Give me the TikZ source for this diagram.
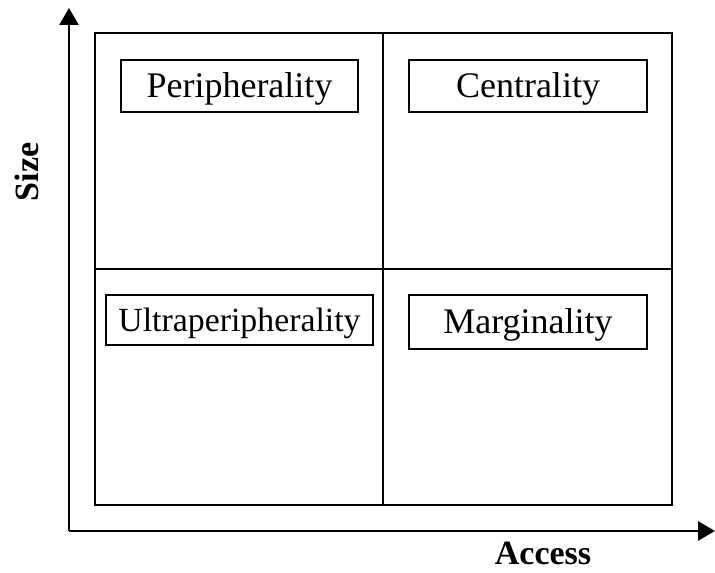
\documentclass[tikz,border=0pt]{standalone}
\usepackage{fontspec}
\setmainfont{Liberation Serif}
\usetikzlibrary{arrows.meta}
\begin{document}
\begin{tikzpicture}[x=1pt,y=1pt,
  thick line/.style={line width=2.8pt},
  label box/.style={draw, line width=2.8pt, inner sep=0pt, align=center,
    font=\fontsize{36}{40}\selectfont, text height=23.8pt, text depth=0pt},
  axis label/.style={font=\fontsize{34}{38}\selectfont\bfseries, inner sep=0pt},
  axis/.style={line width=2.8pt, -{Triangle[length=17pt,width=19pt]}}]
\useasboundingbox (0,0) rectangle (715,573);
% axes
\coordinate (O) at (69,42);
\coordinate (Ytop) at (69,565);
\coordinate (Xend) at (715,42);
\draw[axis] (O) -- (Ytop);
\draw[axis] (O) -- (Xend);
% outer grid
\coordinate (BL) at (95,68);
\coordinate (TR) at (672,540);
\draw[thick line] (BL) rectangle (TR);
\coordinate (MT) at (383,540);
\coordinate (MB) at (383,68);
\coordinate (ML) at (95,304);
\coordinate (MR) at (672,304);
\draw[thick line] (MT) -- (MB);
\draw[thick line] (ML) -- (MR);
% quadrant labels
\node[label box, minimum width=237pt, minimum height=52pt] (per) at (239.5,487) {Peripherality};
\node[label box, minimum width=238pt, minimum height=52pt] (cen) at (528,487) {Centrality};
\node[label box, minimum width=267pt, minimum height=50pt, font=\fontsize{33.8}{38}\selectfont, text height=22.4pt] (ult) at (239.5,253) {Ultraperipherality};
\node[label box, minimum width=238pt, minimum height=54pt] (mar) at (528,251) {Marginality};
% axis labels
\node[axis label, rotate=90] (size) at (27,401) {Size};
\node[axis label] (access) at (543,20) {Access};
\end{tikzpicture}
\end{document}
